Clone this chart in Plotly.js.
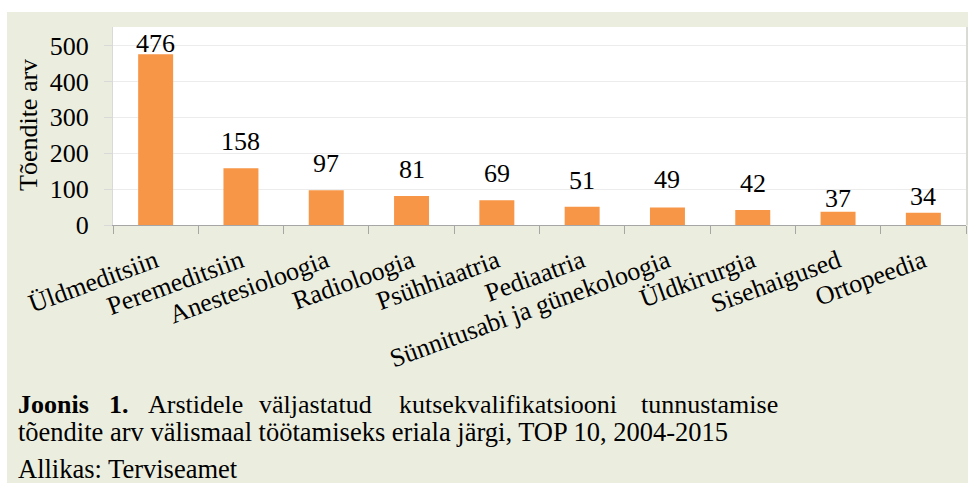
<!DOCTYPE html>
<html><head><meta charset="utf-8">
<script src="https://cdn.plot.ly/plotly-3.0.1.min.js"></script>
<style>html,body{margin:0;padding:0;background:#fff}#chart{width:968px;height:483px}</style>
</head><body><div id="chart"></div>
<script>
// ---- data ----
const categories = ["Üldmeditsiin","Peremeditsiin","Anestesioloogia","Radioloogia","Psühhiaatria","Pediaatria","Sünnitusabi ja günekoloogia","Üldkirurgia","Sisehaigused","Ortopeedia"];
const counts = [476,158,97,81,69,51,49,42,37,34];
const yTicks = [0,100,200,300,400,500];
const yTitle = "Tõendite arv";
const captionWords = ["<b>Joonis</b>","<b>1.</b>","Arstidele","väljastatud","kutsekvalifikatsiooni","tunnustamise"];
const captionLine2 = "tõendite arv välismaal töötamiseks eriala järgi, TOP 10, 2004-2015";
const sourceLine = "Allikas: Terviseamet";

// ---- layout helpers (pixel -> paper) ----
const W=968,H=483,L=113,R=2,T=27,B=258;
const pw=W-L-R, ph=H-T-B;
const px = p => (p-L)/pw;
const py = p => (H-B-p)/ph;
const labelLift = [-6,10,10,10,10,10,11,10,-3,0];
const wordX = [16,107,146,257,397,639];

const FONT = "Liberation Serif";
const BG = "#ebeedf";

const annotations = [];
categories.forEach((c,i)=>{
  annotations.push({x:c,y:counts[i],xref:'x',yref:'y',text:String(counts[i]),showarrow:false,
    yanchor:'bottom',yshift:labelLift[i],font:{family:FONT,size:26,color:'#000'}});
});
annotations.push({xref:'paper',yref:'paper',x:px(28),y:py(125),text:yTitle,textangle:-90,showarrow:false,
  xanchor:'center',yanchor:'middle',font:{family:FONT,size:26,color:'#000'}});
captionWords.forEach((w,i)=>{
  annotations.push({xref:'paper',yref:'paper',x:px(wordX[i]),y:py(404),text:w,showarrow:false,
    xanchor:'left',yanchor:'middle',font:{family:FONT,size:26,color:'#000'}});
});
annotations.push({xref:'paper',yref:'paper',x:px(16),y:py(432),text:captionLine2,showarrow:false,
  xanchor:'left',yanchor:'middle',font:{family:FONT,size:26.5,color:'#000'}});
annotations.push({xref:'paper',yref:'paper',x:px(16),y:py(469),text:sourceLine,showarrow:false,
  xanchor:'left',yanchor:'middle',font:{family:FONT,size:26.5,color:'#000'}});

const shapes = [
  {type:'rect',xref:'paper',yref:'paper',x0:px(0),x1:px(W),y0:py(12),y1:py(0),fillcolor:'#ffffff',line:{width:0},layer:'above'},
  {type:'rect',xref:'paper',yref:'paper',x0:px(0),x1:px(7),y0:py(H),y1:py(0),fillcolor:'#ffffff',line:{width:0},layer:'above'},
  {type:'line',xref:'paper',yref:'paper',x0:px(967),x1:px(967),y0:0,y1:1,line:{color:'#c8c8c8',width:1}}
];

const trace = {type:'bar',x:categories,y:counts,marker:{color:'#f79646'},hoverinfo:'skip'};

const layout = {
  width:W,height:H,margin:{l:L,r:R,t:T,b:B,pad:0},
  paper_bgcolor:BG,plot_bgcolor:'#ffffff',
  font:{family:FONT,size:26,color:'#000'},
  bargap:0.59,showlegend:false,
  xaxis:{type:'category',tickson:'boundaries',ticks:'outside',ticklen:8,tickcolor:'#a6a6a6',tickwidth:1,
    showline:true,linecolor:'#a6a6a6',linewidth:1,showgrid:false,tickangle:-20,
    tickfont:{family:FONT,size:26,color:'#000'},ticklabelstandoff:10,automargin:false},
  yaxis:{range:[0,552],tickvals:yTicks,ticks:'outside',ticklen:8,tickcolor:'#d9d9d9',showline:true,
    linecolor:'#d9d9d9',gridcolor:'#ececec',zeroline:false,tickfont:{family:FONT,size:26,color:'#000'},
    ticklabelstandoff:10,automargin:false},
  annotations:annotations,shapes:shapes
};
Plotly.newPlot('chart',[trace],layout,{staticPlot:true});
</script></body></html>
